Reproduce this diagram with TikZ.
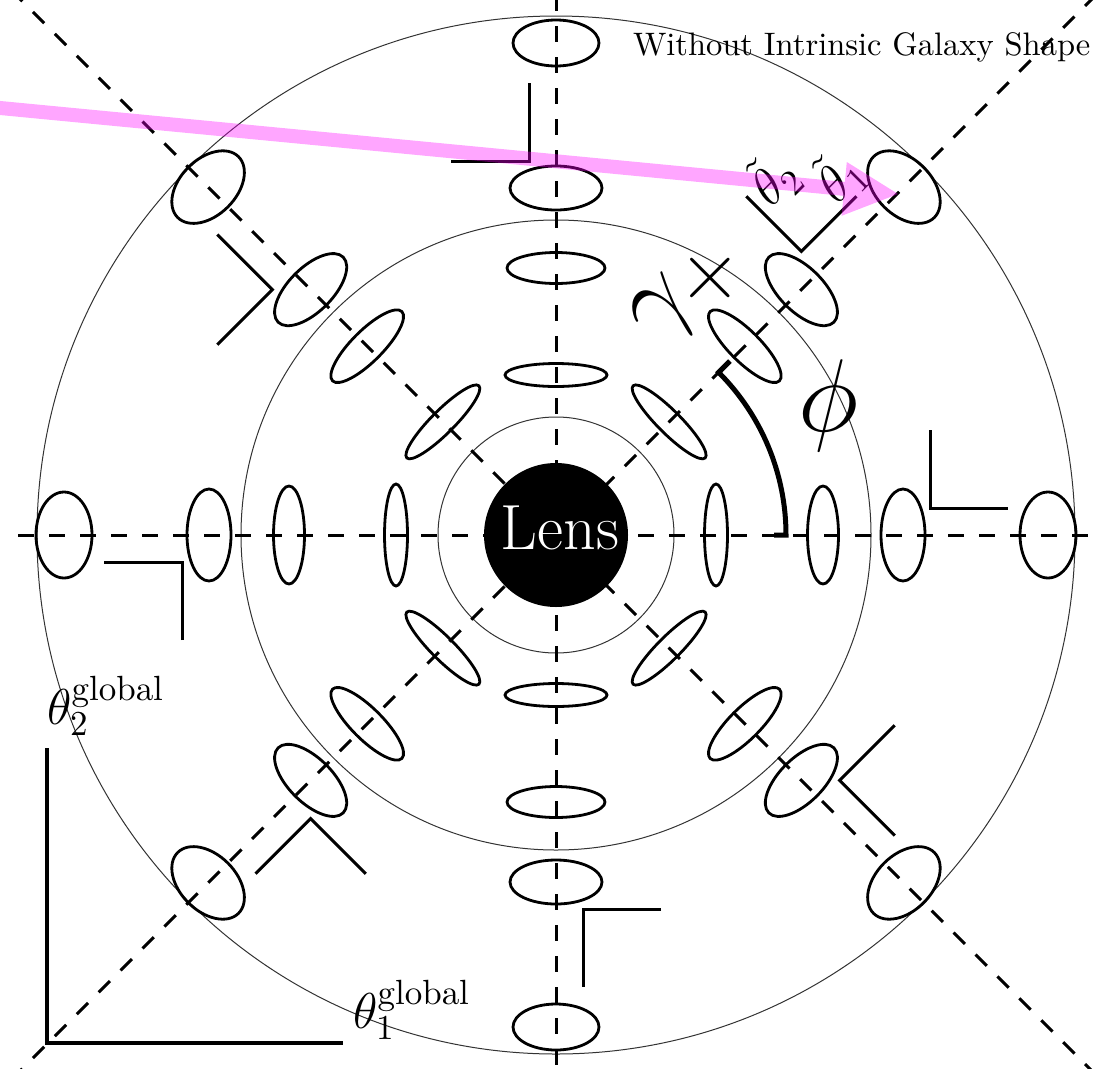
\documentclass[tikz,border=0pt]{standalone}
\usepackage{graphicx}
\usetikzlibrary{arrows.meta}
\definecolor{arrowpink}{RGB}{255,0,255}
\tikzset{
  galaxy/.style={line width=2.8pt},
  axisdash/.style={line width=3pt, dash pattern=on 16pt off 15pt},
  ring/.style={line width=1pt, black!80},
  localaxes/.style={line width=3pt},
  globalaxes/.style={line width=4pt},
  phiarc/.style={line width=5pt},
  lbl/.style={inner sep=0pt, outer sep=0pt},
  pinkpath/.style={arrowpink, opacity=0.35},
}
\begin{document}
\begin{tikzpicture}[x=1pt,y=-1pt]
\useasboundingbox (0,0) rectangle (1110,1068);
\clip (0,0) rectangle (1110,1068);
\coordinate (O) at (556,535);
% rings
\draw[ring] (O) circle[radius=118];
\draw[ring] (O) circle[radius=315];
\draw[ring] (O) circle[radius=519];
% dashed axes
\begin{scope}[shift={(O)}]
  \draw[axisdash] (-538,0) -- (538,0);
  \draw[axisdash] (0,-540) -- (0,540);
  \draw[axisdash] (-545,545) -- (545,-545);
  \draw[axisdash] (-545,-545) -- (545,545);
\end{scope}
% galaxies and local axes
\foreach \ang/\outr in {0/28,45/28,90/23,135/28,180/28,225/28,270/23,315/28}{
  \begin{scope}[shift={(O)}, rotate=\ang]
    \foreach \d/\ta/\ra in {160/51/11.5, 267/49/15.5, 347/46/22, 492/43/\outr}
      \draw[galaxy] (\d,0) ellipse [x radius=\ra, y radius=\ta];
    \draw[localaxes] (374,-105) -- (374,-27) -- (452,-27);
  \end{scope}
}
% phi arc
\begin{scope}[shift={(O)}]
  \draw[phiarc] (218,0) -- (230,0) arc[start angle=0, end angle=-45, radius=230] -- (-45:246);
\end{scope}
% lens
\node[circle, fill=black, minimum size=144pt, inner sep=0pt] (lens) at (O) {};
\node[lbl, text=white] (lenstext) at (560,528) {\scalebox{3.08}{\huge Lens}};
% labels
\node[lbl, anchor=base west] (title) at (633,55) {\scalebox{3.25}{Without Intrinsic Galaxy Shape}};
\node[lbl, rotate=45] (gamma) at (688,292) {\scalebox{4.2}{\Huge$\gamma_+$}};
\node[lbl] (phi) at (828,406) {\scalebox{4.16}{\Huge$\phi$}};
\node[lbl, rotate=45] (t2) at (773,179) {\scalebox{3.6}{\Large$\tilde\theta_2$}};
\node[lbl, rotate=45] (t1) at (839,176) {\scalebox{3.6}{\Large$\tilde\theta_1$}};
% global axes
\coordinate (gy) at (47,748);
\coordinate (gc) at (47,1043);
\coordinate (gx) at (343,1043);
\draw[globalaxes] (gy) -- (gc) -- (gx);
\node[lbl] (g2) at (106,706) {\scalebox{3.5}{\Large$\theta_2^{\mathrm{global}}$}};
\node[lbl] (g1) at (412,1010) {\scalebox{3.5}{\Large$\theta_1^{\mathrm{global}}$}};
% pink arrow
\coordinate (arrS) at (-5,107.5);
\coordinate (arrB) at (844.2,188.9);
\coordinate (arrL) at (846.8,162.0);
\coordinate (arrR) at (841.6,215.8);
\coordinate (arrE) at (898,194);
\draw[pinkpath, line width=14pt] (arrS) -- (arrB);
\fill[pinkpath] (arrL) -- (arrE) -- (arrR) -- cycle;
\end{tikzpicture}
\end{document}
